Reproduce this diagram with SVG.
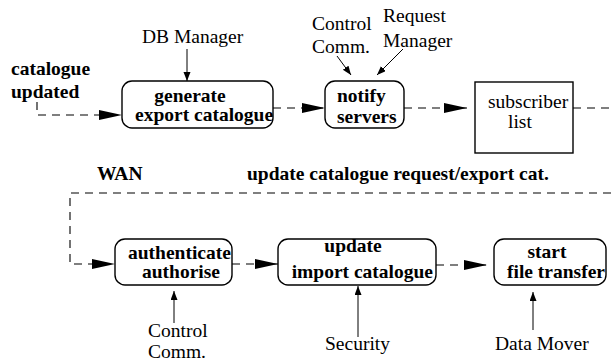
<svg xmlns="http://www.w3.org/2000/svg" width="611" height="360" viewBox="0 0 611 360">
<style>
.t{font-family:'Liberation Serif','Times New Roman',serif;font-size:19.5px;fill:#000}
.b{font-weight:bold}
.box{fill:#fff;stroke:#000;stroke-width:1.4}
.d{fill:none;stroke:#000;stroke-width:1.1;stroke-dasharray:8 6}
.s{fill:none;stroke:#000;stroke-width:1}
</style>
<defs>
<marker id="big" markerUnits="userSpaceOnUse" markerWidth="24" markerHeight="12" refX="23" refY="5" orient="auto" viewBox="0 0 24 12">
<path d="M0,0 L23,5 L0,10 z" fill="#000"/>
</marker>
<marker id="sm" markerUnits="userSpaceOnUse" markerWidth="10" markerHeight="8" refX="9" refY="3.5" orient="auto" viewBox="0 0 10 8">
<path d="M0,0 L9,3.5 L0,7 z" fill="#000"/>
</marker>
</defs>
<g id="connectors">
<path class="d" d="M37,102 V115 H122" marker-end="url(#big)"/>
<path class="s" d="M187,49 V81" marker-end="url(#sm)"/>
<path class="d" d="M273,108 H325" marker-end="url(#big)"/>
<path class="d" d="M404,108 H467" marker-end="url(#big)"/>
<path class="d" d="M573,108 H611"/>
<path class="s" d="M337,56 L351,75" marker-end="url(#sm)"/>
<path class="s" d="M403,49 L377,75" marker-end="url(#sm)"/>
<path class="d" d="M611,193 H70 V264 H115" marker-end="url(#big)"/>
<path class="d" d="M232,264 H278" marker-end="url(#big)"/>
<path class="d" d="M436,265 H487" marker-end="url(#big)"/>
<path class="s" d="M174,323 V291" marker-end="url(#sm)"/>
<path class="s" d="M358,337 V286" marker-end="url(#sm)"/>
<path class="s" d="M533,330 V292" marker-end="url(#sm)"/>
</g>
<g class="t">
<g id="catalogue-updated">
<text class="b" x="11" y="75">catalogue</text>
<text class="b" x="11" y="98">updated</text>
</g>
<g id="db-manager"><text x="142" y="43">DB Manager</text></g>
<g id="generate">
<rect class="box" x="122" y="81" width="151" height="47" rx="10"/>
<text class="b" x="190" y="102" text-anchor="middle">generate</text>
<text class="b" x="135" y="121">export catalogue</text>
</g>
<g id="control-comm-top">
<text x="312" y="30">Control</text>
<text x="312" y="53">Comm.</text>
</g>
<g id="request-manager">
<text x="383" y="22">Request</text>
<text x="383" y="47">Manager</text>
</g>
<g id="notify">
<rect class="box" x="325" y="81" width="79" height="47" rx="10"/>
<text class="b" x="337" y="102">notify</text>
<text class="b" x="337" y="123">servers</text>
</g>
<g id="subscriber">
<rect class="box" x="475" y="82" width="98" height="71"/>
<text x="488" y="108">subscriber</text>
<text x="508" y="128">list</text>
</g>
<g id="wan"><text class="b" x="97" y="180">WAN</text></g>
<g id="update-label"><text class="b" x="247" y="180">update catalogue request/export cat.</text></g>
<g id="authenticate">
<rect class="box" x="115" y="239" width="117" height="46" rx="10"/>
<text class="b" x="128" y="259">authenticate</text>
<text class="b" x="142" y="278">authorise</text>
</g>
<g id="update">
<rect class="box" x="278" y="239" width="158" height="46" rx="10"/>
<text class="b" x="353" y="252" text-anchor="middle">update</text>
<text class="b" x="433" y="278" text-anchor="end">import catalogue</text>
</g>
<g id="start">
<rect class="box" x="494" y="239" width="112" height="46" rx="10"/>
<text class="b" x="547" y="258" text-anchor="middle">start</text>
<text class="b" x="507" y="278">file transfer</text>
</g>
<g id="control-comm-bottom">
<text x="148" y="337">Control</text>
<text x="148" y="358">Comm.</text>
</g>
<g id="security"><text x="325" y="350">Security</text></g>
<g id="data-mover"><text x="495" y="350">Data Mover</text></g>
</g>
</svg>
